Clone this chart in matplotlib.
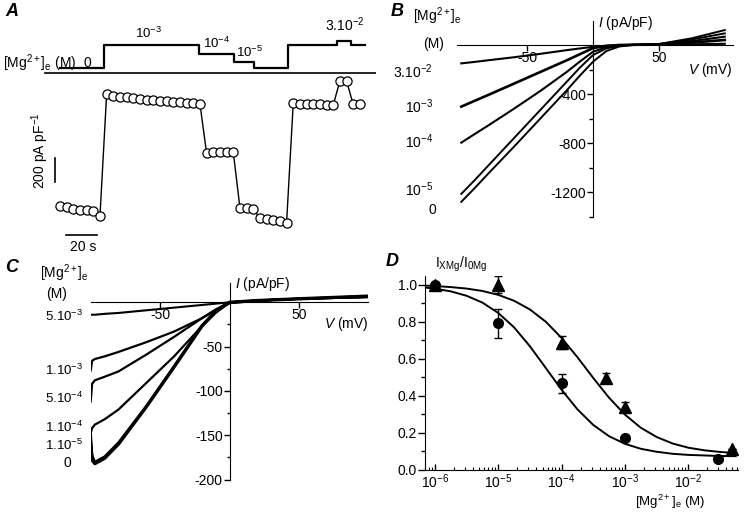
import matplotlib
matplotlib.use('Agg')
import matplotlib.pyplot as plt
from matplotlib.ticker import FixedLocator, NullFormatter, LogLocator

plt.rcParams['font.family'] = ['Liberation Sans', 'DejaVu Sans']
plt.rcParams['mathtext.fontset'] = 'custom'
plt.rcParams['mathtext.rm'] = 'Liberation Sans'
plt.rcParams['mathtext.it'] = 'Liberation Sans:italic'
plt.rcParams['mathtext.bf'] = 'Liberation Sans:bold'
plt.rcParams['mathtext.default'] = 'regular'
plt.rcParams['axes.unicode_minus'] = False
plt.rcParams['font.size'] = 10

# ---------------- data ----------------
# A: time course of current (pA/pF) during Mg2+ changes
time_s = [0.0, 4.3, 8.6, 12.9, 17.2, 21.5, 25.8,
          30.1, 34.4, 38.7, 43.0, 47.3, 51.6, 55.9, 60.2, 64.5, 68.8, 73.1,
          77.4, 81.7, 86.0, 90.3,
          94.6, 98.9, 103.2, 107.5, 111.8,
          116.1, 120.4, 124.7,
          129.0, 133.3, 137.6, 141.9, 146.2,
          150.5, 154.8, 159.1, 163.4, 167.7, 172.0, 176.3,
          180.6, 184.9,
          189.2, 193.5]
current = [-1105, -1120, -1130, -1140, -1145, -1150, -1190,
           -175, -188, -196, -204, -211, -217, -222, -227, -233, -237, -242,
           -244, -248, -250, -258,
           -668, -658, -658, -658, -660,
           -1122, -1122, -1133,
           -1211, -1217, -1225, -1231, -1248,
           -253, -258, -261, -261, -261, -264, -267,
           -67, -67,
           -261, -261]
stim_times = [0.0, 28.4, 89.9, 112.3, 125.4, 147.3, 178.5, 187.5, 196.8]
stim_levels = [0.0, 4.2, 2.54, 1.0, 0.0, 4.2, 5.0, 4.2]

# B: I-V curves, panel B (V in mV, I in pA/pF)
iv_b_v = [-100, -90, -80, -60, -40, -20, -10, 0, 10, 20, 30, 50, 75, 100]
iv_b = {
    '0':     [-1280, -1170, -1055, -830, -600, -370, -250, -136, -50, -12, 0, 8, 55, 122],
    '1e-5':  [-1215, -1105, -990, -760, -530, -300, -185, -82, -28, -6, 2, 8, 45, 95],
    '1e-4':  [-797, -728, -660, -520, -375, -220, -135, -55, -18, -4, 2, 6, 32, 68],
    '1e-3':  [-503, -456, -410, -315, -220, -125, -75, -25, -8, 0, 2, 5, 20, 41],
    '3e-2':  [-150, -138, -125, -100, -72, -42, -28, -15, -6, -2, 0, 3, 6, 10],
}

# C: I-V curves, panel C
iv_c_v = [-100, -99, -97, -90, -80, -60, -40, -20, -10, 0, 20, 50, 100]
iv_c = {
    '0':      [-159, -178, -182, -176, -160, -118, -73, -27, -10, 0, 2, 4, 7],
    '1e-5':   [-145, -172, -180, -174, -158, -117, -72, -26, -10, 0, 2, 4, 6],
    '1e-4':   [-148, -142, -138, -132, -121, -91, -61, -27, -12, 0, 2, 4, 6],
    '5e-4':   [-112, -92, -88, -84, -78, -59, -39, -18, -8, 0, 2, 4, 6],
    '1e-3':   [-77, -66, -64, -61, -56, -45, -33, -18, -9, -1, 2, 4, 7],
    '5e-3':   [-14, -14, -14, -13, -12, -9, -6, -3, -1.5, 0, 2, 4, 7],
}

# D: dose-response
circ_conc = [1e-6, 1e-5, 1e-4, 1e-3, 3e-2]
circ_frac = [1.0, 0.79, 0.465, 0.17, 0.055]
circ_err = [0.0, 0.08, 0.05, 0.018, 0.0]
tri_conc = [1e-6, 1e-5, 1e-4, 5e-4, 1e-3, 5e-2]
tri_frac = [1.0, 1.0, 0.685, 0.495, 0.34, 0.11]
tri_err = [0.0, 0.045, 0.035, 0.027, 0.027, 0.0]
fit_conc = [6.9e-7, 1e-6, 1.78e-6, 3.16e-6, 5.62e-6, 1e-5, 1.78e-5, 3.16e-5,
            5.62e-5, 1e-4, 1.78e-4, 3.16e-4, 5.62e-4, 1e-3, 1.78e-3,
            3.16e-3, 5.62e-3, 1e-2, 1.78e-2, 3.16e-2, 5.62e-2]
fit_circ = [0.984, 0.977, 0.963, 0.939, 0.902, 0.846, 0.768, 0.666, 0.549,
            0.431, 0.325, 0.241, 0.180, 0.139, 0.112, 0.096, 0.085, 0.079,
            0.076, 0.073, 0.072]
fit_tri = [0.994, 0.992, 0.986, 0.978, 0.965, 0.944, 0.912, 0.865, 0.799,
           0.711, 0.607, 0.495, 0.388, 0.297, 0.226, 0.176, 0.141, 0.118,
           0.104, 0.095, 0.089]

W, H = 750, 521


def rect(x0, y0, x1, y1):
    return [x0 / W, 1 - y1 / H, (x1 - x0) / W, (y1 - y0) / H]


def fpos(x, y):
    return x / W, 1 - y / H


fig = plt.figure(figsize=(7.5, 5.21), dpi=100)

# panel letters
for letter, (px, py) in zip('ABCD', [(12, 12), (397, 12), (12, 267), (392, 262)]):
    fig.text(*fpos(px, py), letter, fontsize=13, fontweight='bold',
             fontstyle='italic', ha='center', va='center')

# ---------------- A ----------------
axs = fig.add_axes(rect(40, 20, 376, 76))
axs.set_xlim(-12.9, 203.9)
axs.set_ylim(-1.54, 8.83)
axs.axis('off')
axs.step(stim_times, stim_levels + [stim_levels[-1]], where='post',
         color='black', lw=1.6)
axs.plot([-9.7, 203.9], [-0.98, -0.98], color='black', lw=1.2)
axs.text(17.4, 0.87, '0', ha='center', va='center')
axs.text(56.8, 6.4, '10$^{-3}$', ha='center', va='center', fontsize=9.5)
axs.text(101.3, 4.57, '10$^{-4}$', ha='center', va='center', fontsize=9.5)
axs.text(122.6, 2.9, '10$^{-5}$', ha='center', va='center', fontsize=9.5)
axs.text(183.9, 7.9, '3.10$^{-2}$', ha='center', va='center', fontsize=10)
fig.text(*fpos(3, 63), '[Mg$^{2+}$]$_e$ (M)', ha='left', va='center')

axa = fig.add_axes(rect(40, 76, 376, 256))
axa.set_xlim(-12.9, 203.9)
axa.set_ylim(-1525, -25)
axa.axis('off')
axa.plot(time_s, current, color='black', lw=1.0, marker='o', ms=6.6,
         mfc='white', mec='black', mew=0.9)
# scale bars
axa.plot([-3.2, -3.2], [-708, -908], color='black', lw=1.2)
axa.plot([3.9, 23.9], [-1350, -1350], color='black', lw=1.2)
axa.text(-12.9, -650, '200 pA pF$^{-1}$', rotation=90, ha='center', va='center')
axa.text(14.8, -1450, '20 s', ha='center', va='center')

# ---------------- B ----------------
axb = fig.add_axes(rect(456.7, 21, 732.7, 217))
axb.set_xlim(-103.5, 106)
axb.set_ylim(-1404, 196)
for key, lw in [('0', 1.4), ('1e-5', 1.4), ('1e-4', 1.5), ('1e-3', 1.9), ('3e-2', 1.5)]:
    axb.plot(iv_b_v, iv_b[key], color='black', lw=lw)
axb.spines['left'].set_position(('data', 0))
axb.spines['bottom'].set_position(('data', 0))
axb.spines['top'].set_visible(False)
axb.spines['right'].set_visible(False)
axb.set_yticks([-400, -800, -1200])
axb.yaxis.set_minor_locator(FixedLocator([-200, -600, -1000, -1400]))
axb.set_xticks([-50, 50])
axb.tick_params(axis='y', which='major', length=4, width=1, direction='out', pad=1)
axb.tick_params(axis='y', which='minor', length=3, width=1, direction='out')
axb.tick_params(axis='x', length=4, width=1, direction='out', pad=0)
axb.text(4, 180, '$\\mathit{I}$ (pA/pF)', ha='left', va='center')
axb.text(106, -207, '$\\mathit{V}$ (mV)', ha='right', va='center')
fig.text(*fpos(437, 16), '[Mg$^{2+}$]$_e$', ha='center', va='center')
fig.text(*fpos(434, 44), '(M)', ha='center', va='center')
for lab, y in [('3.10$^{-2}$', 72), ('10$^{-3}$', 107), ('10$^{-4}$', 142),
               ('10$^{-5}$', 190)]:
    fig.text(*fpos(433, y), lab, ha='right', va='center')
fig.text(*fpos(432, 210), '0', ha='center', va='center')

# ---------------- C ----------------
axc = fig.add_axes(rect(90.7, 283, 368, 480))
axc.set_xlim(-100, 99.6)
axc.set_ylim(-200.5, 21.8)
for key, lw in [('0', 2.4), ('1e-5', 1.6), ('1e-4', 1.6), ('5e-4', 1.6),
                ('1e-3', 1.6), ('5e-3', 1.5)]:
    axc.plot(iv_c_v, iv_c[key], color='black', lw=lw)
axc.spines['left'].set_position(('data', 0))
axc.spines['bottom'].set_position(('data', 0))
axc.spines['top'].set_visible(False)
axc.spines['right'].set_visible(False)
axc.set_yticks([-50, -100, -150, -200])
axc.yaxis.set_minor_locator(FixedLocator([-25, -75, -125, -175]))
axc.set_xticks([-50, 50])
axc.tick_params(axis='y', which='major', length=4, width=1, direction='out', pad=1)
axc.tick_params(axis='y', which='minor', length=2.5, width=1, direction='out')
axc.tick_params(axis='x', length=4, width=1, direction='out', pad=0)
axc.text(4, 21, '$\\mathit{I}$ (pA/pF)', ha='left', va='center')
axc.text(99.6, -24.5, '$\\mathit{V}$ (mV)', ha='right', va='center')
fig.text(*fpos(64, 273), '[Mg$^{2+}$]$_e$', ha='center', va='center')
fig.text(*fpos(57, 294), '(M)', ha='center', va='center')
for lab, y in [('5.10$^{-3}$', 316), ('1.10$^{-3}$', 370), ('5.10$^{-4}$', 398),
               ('1.10$^{-4}$', 427), ('1.10$^{-5}$', 445)]:
    fig.text(*fpos(83, y), lab, ha='right', va='center', fontsize=9.5)
fig.text(*fpos(67, 463), '0', ha='center', va='center')

# ---------------- D ----------------
axd = fig.add_axes(rect(425, 276, 738, 469.5))
axd.set_xscale('log')
axd.set_xlim(10 ** -6.158, 10 ** -1.213)
axd.set_ylim(0, 1.046)
axd.plot(fit_conc, fit_circ, color='black', lw=1.4)
axd.plot(fit_conc, fit_tri, color='black', lw=1.4)
axd.errorbar(circ_conc, circ_frac, yerr=circ_err, fmt='o', color='black',
             ms=7, capsize=3, elinewidth=1, capthick=1, zorder=3)
axd.errorbar(tri_conc, tri_frac, yerr=tri_err, fmt='^', color='black',
             ms=8, capsize=3, elinewidth=1, capthick=1, zorder=3)
axd.spines['top'].set_visible(False)
axd.spines['right'].set_visible(False)
axd.set_yticks([0.0, 0.2, 0.4, 0.6, 0.8, 1.0])
axd.set_yticklabels(['0.0', '0.2', '0.4', '0.6', '0.8', '1.0'])
axd.yaxis.set_minor_locator(FixedLocator([0.1, 0.3, 0.5, 0.7, 0.9]))
axd.xaxis.set_major_locator(LogLocator(base=10, numticks=10))
axd.xaxis.set_minor_locator(LogLocator(base=10, subs=range(2, 10), numticks=10))
axd.xaxis.set_minor_formatter(NullFormatter())
axd.tick_params(axis='y', which='major', length=5, width=1, direction='out', pad=1)
axd.tick_params(axis='y', which='minor', length=3, width=1, direction='out')
axd.tick_params(axis='x', which='major', length=4, width=1, direction='in', pad=2)
axd.tick_params(axis='x', which='minor', length=2, width=0.8, direction='in')
fig.text(*fpos(435, 264), 'I$_{XMg}$/I$_{0Mg}$', ha='left', va='center')
fig.text(*fpos(670, 502), '[Mg$^{2+}$]$_e$ (M)', ha='center', va='center',
         fontsize=9.5)

fig.savefig('out.png', dpi=100)
